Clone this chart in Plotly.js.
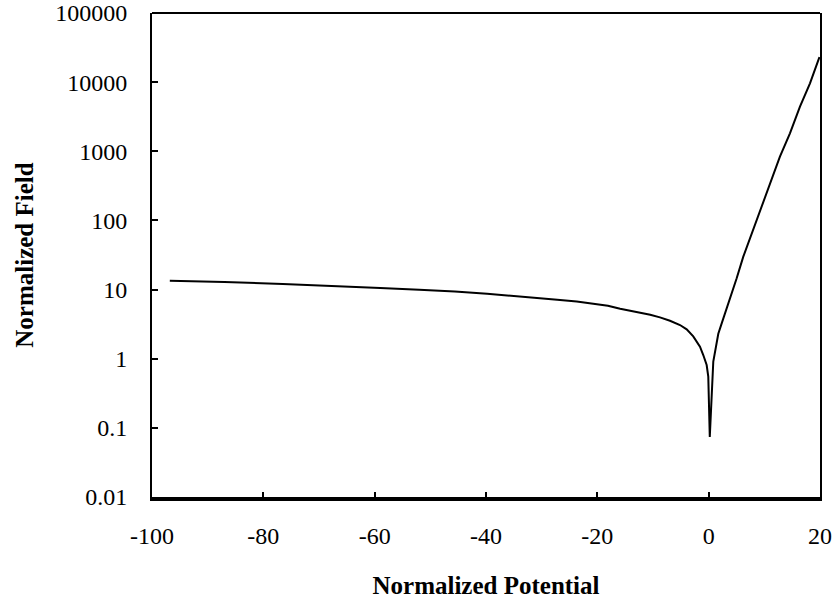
<!DOCTYPE html>
<html>
<head>
<meta charset="utf-8">
<script src="https://cdn.plot.ly/plotly-3.0.1.min.js"></script>
<style>html,body{margin:0;padding:0;background:#fff;}#chart{width:837px;height:604px;}</style>
</head>
<body>
<div id="chart"></div>
<script>
// Normalized potential (x) and normalized field (y)
const potential = [-96.8, -87, -76.5, -67.5, -59, -52, -45.6, -39.8, -35.2, -30.7, -27.2, -23.7, -20.8, -18.1, -15.9, -14.1, -12.3, -10.5, -8.75, -6.95, -5.15, -3.95, -2.77, -1.56, -0.97, -0.36, -0.07, 0.2, 0.83, 1.73, 2.34, 3.24, 4.13, 5.03, 6.22, 7.42, 9.2, 11.0, 12.8, 14.6, 16.4, 18.2, 19.9];
const field = [13.4, 12.9, 12.0, 11.3, 10.5, 9.9, 9.4, 8.7, 8.15, 7.6, 7.1, 6.7, 6.25, 5.85, 5.28, 4.94, 4.69, 4.33, 3.96, 3.54, 3.07, 2.66, 2.1, 1.49, 1.13, 0.81, 0.55, 0.074, 0.91, 2.3, 3.25, 5.3, 8.8, 14.6, 29.9, 55, 142, 344, 835, 1820, 4410, 9620, 23000];

const xTickVals = [-100, -80, -60, -40, -20, 0, 20];
const xTickText = ["-100", "-80", "-60", "-40", "-20", "0", "20"];
const yTickVals = [0.01, 0.1, 1, 10, 100, 1000, 10000, 100000];
const yTickText = ["0.01", "0.1", "1", "10", "100", "1000", "10000", "100000"];

const xTitle = "Normalized Potential";
const yTitle = "Normalized Field";

const serif = "Liberation Serif, Times New Roman, serif";

const trace = {
  x: potential,
  y: field,
  type: "scatter",
  mode: "lines",
  line: {color: "#000", width: 2},
  hoverinfo: "skip"
};

const layout = {
  width: 837,
  height: 604,
  margin: {l: 152, r: 17, t: 13, b: 107},
  paper_bgcolor: "#fff",
  plot_bgcolor: "#fff",
  showlegend: false,
  xaxis: {
    range: [-100, 20],
    tickvals: xTickVals,
    ticktext: xTickText,
    ticks: "inside",
    ticklen: 5,
    tickwidth: 2,
    tickcolor: "#000",
    showline: true,
    linecolor: "#000",
    linewidth: 4,
    mirror: false,
    showgrid: false,
    zeroline: false,
    tickfont: {family: serif, size: 24, color: "#000"},
    ticklabelstandoff: 14,
    title: {text: xTitle, font: {family: serif, size: 25, color: "#000", weight: "bold"}, standoff: 30},
    automargin: false,
    fixedrange: true
  },
  yaxis: {
    type: "log",
    range: [-2, 5],
    tickvals: yTickVals,
    ticktext: yTickText,
    ticks: "inside",
    ticklen: 6,
    tickwidth: 2,
    tickcolor: "#000",
    showline: true,
    linecolor: "#000",
    linewidth: 2,
    mirror: true,
    showgrid: false,
    zeroline: false,
    tickfont: {family: serif, size: 24, color: "#000"},
    ticklabelstandoff: 18,
    title: {text: yTitle, font: {family: serif, size: 25, color: "#000", weight: "bold"}, standoff: 14},
    automargin: false,
    fixedrange: true
  },
  shapes: [{
    type: "line", xref: "paper", yref: "paper", x0: 0, x1: 1, y0: 1, y1: 1,
    line: {color: "#000", width: 2}
  }]
};

Plotly.newPlot("chart", [trace], layout, {displayModeBar: false, staticPlot: true});
</script>
</body>
</html>
